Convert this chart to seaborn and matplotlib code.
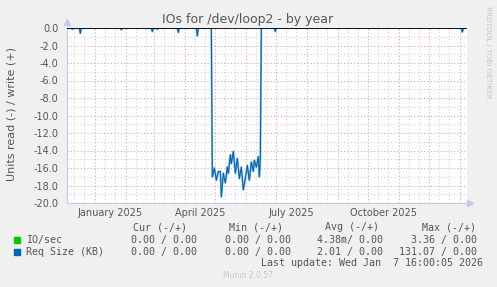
import matplotlib
matplotlib.use("Agg")
import matplotlib.pyplot as plt
import matplotlib.transforms as mtransforms
import numpy as np
import pandas as pd
import seaborn as sns

# ---------------- data ----------------
dates = [
    "2024-12-03", "2024-12-08", "2024-12-09", "2024-12-10",
    "2024-12-16", "2024-12-17", "2024-12-18",
    "2025-01-26", "2025-01-27", "2025-01-28",
    "2025-02-26", "2025-02-27", "2025-02-28",
    "2025-03-03", "2025-03-04", "2025-03-05",
    "2025-03-24", "2025-03-25", "2025-03-26",
    "2025-04-12", "2025-04-13", "2025-04-14",
    "2025-04-27", "2025-04-28", "2025-04-30", "2025-05-02", "2025-05-04",
    "2025-05-06", "2025-05-07", "2025-05-09", "2025-05-11", "2025-05-13",
    "2025-05-14", "2025-05-16", "2025-05-17", "2025-05-19", "2025-05-21",
    "2025-05-23", "2025-05-25", "2025-05-27", "2025-05-29", "2025-05-31",
    "2025-06-02", "2025-06-04", "2025-06-06", "2025-06-08", "2025-06-09",
    "2025-06-11", "2025-06-13", "2025-06-14", "2025-06-15", "2025-06-16",
    "2025-06-29", "2025-06-30", "2025-07-01",
    "2026-01-02", "2026-01-03", "2026-01-04", "2026-01-07",
]
req_size_read = [
    0.0, 0.0, -0.15, 0.0,
    0.0, -0.6, 0.0,
    0.0, -0.2, 0.0,
    0.0, -0.4, 0.0,
    0.0, -0.15, 0.0,
    0.0, -0.5, 0.0,
    0.0, -0.9, 0.0,
    0.0, -17.0, -16.0, -17.4, -16.4,
    -16.4, -19.3, -16.6, -17.7, -15.9,
    -16.6, -14.5, -15.5, -14.1, -16.6,
    -14.9, -17.2, -15.9, -18.5, -17.2,
    -15.7, -17.4, -15.3, -16.4, -15.1,
    -15.9, -14.7, -17.0, -15.0, 0.0,
    0.0, -0.4, 0.0,
    0.0, -0.45, 0.0, 0.0,
]

y_ticks = [0.0, -2.0, -4.0, -6.0, -8.0, -10.0, -12.0, -14.0, -16.0, -18.0, -20.0]
x_labels = ["January 2025", "April 2025", "July 2025", "October 2025"]
x_label_dates = ["2025-01-16", "2025-04-16", "2025-07-16", "2025-10-16"]

legend_names = ["IO/sec", "Req Size (KB)"]
legend_colors = ["#00cc00", "#0066b3"]
col_headers = ["Cur (-/+)", "Min (-/+)", "Avg (-/+)", "Max (-/+)"]
row_values = [
    ["0.00 / 0.00", "0.00 / 0.00", "4.38m/ 0.00", "3.36 / 0.00"],
    ["0.00 / 0.00", "0.00 / 0.00", "2.01 / 0.00", "131.07 / 0.00"],
]
title = "IOs for /dev/loop2 - by year"
ylabel = "Units read (-) / write (+)"
last_update = "Last update: Wed Jan  7 16:00:05 2026"
footer = "Munin 2.0.57"
side_text = "RRDTOOL / TOBI OETIKER"

# ---------------- figure ----------------
W, H = 497, 287
sns.set_theme(style="white")
plt.rcParams["font.family"] = ["DejaVu Sans"]
plt.rcParams["axes.unicode_minus"] = False

fig = plt.figure(figsize=(W / 100, H / 100), dpi=100, facecolor="#f0f0f0")
ax = fig.add_axes([67 / W, 1 - 203 / H, 400 / W, 175 / H])
ax.set_facecolor("#ffffff")

df = pd.DataFrame({"date": pd.to_datetime(dates), "value": req_size_read})

# light line under the dark line
sns.lineplot(data=df, x="date", y="value", ax=ax, color="#8fbfe6",
             linewidth=1.5, estimator=None, zorder=3)
sns.lineplot(data=df, x="date", y="value", ax=ax, color="#0066b3",
             linewidth=0.8, estimator=None, zorder=4)

x0 = pd.Timestamp("2024-12-03 16:00")
x1 = pd.Timestamp("2026-01-07 16:00")
ax.set_xlim(x0, x1)
ax.set_ylim(-20, 0)

# grid
major_months = pd.date_range("2024-12-01", "2026-01-31", freq="MS")
major_months = [d for d in major_months if x0 <= d <= x1]
minor_days = []
for m in pd.date_range("2024-12-01", "2026-01-31", freq="MS"):
    for dd in (10, 20):
        d = m + pd.Timedelta(days=dd)
        if x0 <= d <= x1:
            minor_days.append(d)

ax.set_xticks(major_months)
ax.set_xticks(minor_days, minor=True)
ax.set_xticklabels([])
ax.set_yticks(y_ticks)
ax.set_yticks(np.arange(-19, 0, 2.0), minor=True)
ax.set_yticklabels([f"{v:.1f}" for v in y_ticks], fontsize=7, color="#555555")

ax.grid(which="major", color="#e8a0a0", linestyle=(0, (1, 2)), linewidth=0.8)
ax.grid(which="minor", color="#d0d0d0", linestyle=(0, (1, 2)), linewidth=0.8)
ax.tick_params(axis="x", which="major", length=3, color="#e8a0a0", direction="out")
ax.tick_params(axis="x", which="minor", length=3, color="#d0d0d0", direction="out")
ax.tick_params(axis="y", which="both", length=2, color="#d0d0d0", pad=4)
ax.set_xlabel("")
ax.set_ylabel("")

for s in ("top", "right"):
    ax.spines[s].set_visible(False)
ax.spines["left"].set_color("#c8c8ee")
ax.spines["bottom"].set_color("#c8c8ee")
ax.spines["left"].set_linewidth(0.8)
ax.spines["bottom"].set_linewidth(0.8)

# zero line
ax.axhline(0, color="#000000", linewidth=1.2, zorder=5)

# axis arrows
ax.plot([0], [1.035], marker="^", markersize=4, color="#c8c8ee",
        transform=ax.transAxes, clip_on=False)
ax.plot([1.008], [0], marker=">", markersize=4, color="#c8c8ee",
        transform=ax.transAxes, clip_on=False)

# x labels
trans = mtransforms.blended_transform_factory(ax.transData, fig.transFigure)
for lab, d in zip(x_labels, x_label_dates):
    ax.text(pd.Timestamp(d), 1 - 213 / H, lab, transform=trans, ha="center",
            va="center", fontsize=7, color="#555555")

def px(x, y):
    return x / W, 1 - y / H

fig.text(*px(248, 19), title, ha="center", va="center", fontsize=9, color="#555555")
fig.text(*px(12, 114), ylabel, ha="center", va="center", rotation=90,
         fontsize=8, color="#555555")
fig.text(*px(488, 52), side_text, ha="center", va="center", rotation=270,
         fontsize=5.2, color="#c4c4c4")

mono = "DejaVu Sans Mono"
fs = 7.2
header_right = [187, 283, 379, 476]
value_right = [197, 291, 383, 477]
for h, xr in zip(col_headers, header_right):
    fig.text(*px(xr, 227), h, ha="right", va="center", fontsize=fs,
             family=mono, color="#555555")
for i, (name, col, vals) in enumerate(zip(legend_names, legend_colors, row_values)):
    yrow = 240 + 12 * i
    fig.patches.append(plt.Rectangle(px(14, yrow + 3), 6 / W, 6 / H,
                                     transform=fig.transFigure, color=col,
                                     figure=fig))
    fig.text(*px(26, yrow), name, ha="left", va="center", fontsize=fs,
             family=mono, color="#555555")
    for v, xr in zip(vals, value_right):
        fig.text(*px(xr, yrow), v, ha="right", va="center", fontsize=fs,
                 family=mono, color="#555555")
fig.text(*px(483, 263), last_update, ha="right", va="center", fontsize=fs,
         family=mono, color="#555555")
fig.text(*px(248, 276), footer, ha="center", va="center", fontsize=5.5,
         color="#c8c8c8")

fig.savefig("out.png", dpi=100, facecolor=fig.get_facecolor())
